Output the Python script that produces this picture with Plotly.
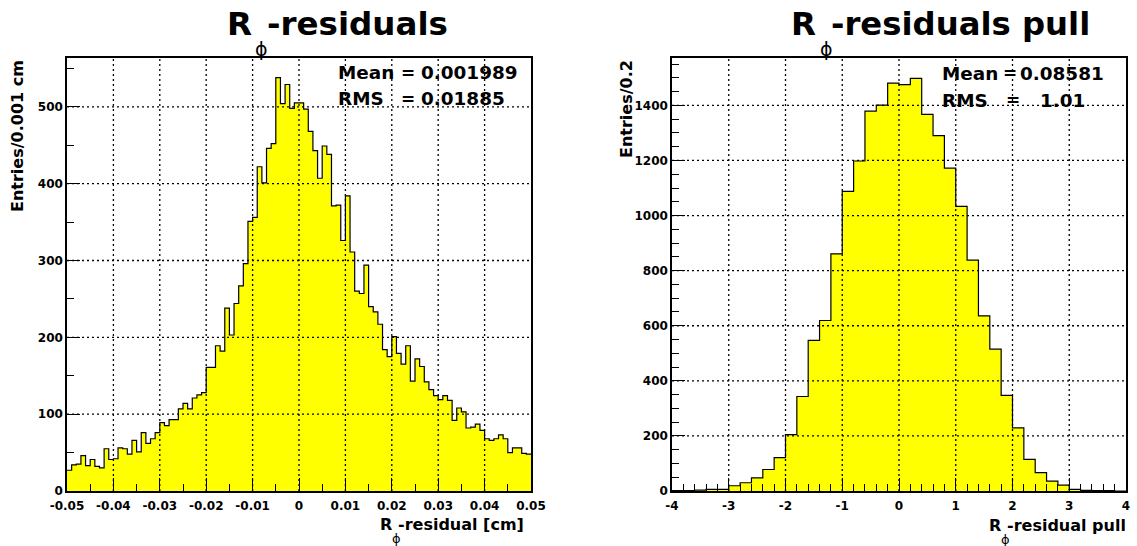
import plotly.graph_objects as go

# ---------------- data ----------------
# R_phi residuals: 100 bins of 0.001 cm from -0.05 to 0.05
res_bin_lo = -0.05
res_bin_w = 0.001
res_counts = [
    27, 34, 35, 46, 33, 41, 32, 30, 55, 41,
    42, 56, 55, 48, 66, 51, 76, 62, 68, 76,
    89, 85, 93, 93, 107, 114, 107, 121, 125, 128,
    161, 161, 189, 182, 238, 203, 244, 267, 296, 351,
    356, 422, 401, 446, 452, 538, 504, 529, 498, 505,
    505, 497, 468, 443, 407, 449, 438, 371, 372, 326,
    384, 311, 260, 257, 294, 240, 233, 217, 184, 175,
    201, 179, 165, 189, 143, 172, 162, 142, 132, 124,
    119, 124, 118, 92, 108, 103, 82, 83, 87, 79,
    68, 66, 68, 73, 68, 50, 56, 56, 49, 48,
]
res_xticks = [-0.05, -0.04, -0.03, -0.02, -0.01, 0, 0.01, 0.02, 0.03, 0.04, 0.05]
res_xticklabels = ["-0.05", "-0.04", "-0.03", "-0.02", "-0.01", "0",
                   "0.01", "0.02", "0.03", "0.04", "0.05"]
res_yticks = [0, 100, 200, 300, 400, 500]
res_yticklabels = ["0", "100", "200", "300", "400", "500"]
res_mean = "0.001989"
res_rms = "0.01885"

# R_phi residual pull: 40 bins of 0.2 from -4 to 4
pull_bin_lo = -4.0
pull_bin_w = 0.2
pull_counts = [
    1, 1, 3, 6, 6, 19, 30, 48, 78, 121,
    205, 343, 547, 619, 861, 1088, 1198, 1379, 1401, 1481,
    1475, 1498, 1367, 1290, 1172, 1033, 838, 636, 515, 347,
    229, 115, 67, 36, 21, 6, 2, 1, 1, 0,
]
pull_xticks = [-4, -3, -2, -1, 0, 1, 2, 3, 4]
pull_xticklabels = ["-4", "-3", "-2", "-1", "0", "1", "2", "3", "4"]
pull_yticks = [0, 200, 400, 600, 800, 1000, 1200, 1400]
pull_yticklabels = ["0", "200", "400", "600", "800", "1000", "1200", "1400"]
pull_mean = "0.08581"
pull_rms = "1.01"

# ---------------- layout helpers ----------------
W, H = 1137, 546
FONT = "DejaVu Sans, Verdana, sans-serif"


def px(x):
    return x / W


def py(y):
    return 1 - y / H


def step_xy(lo, w, counts):
    xs = [lo + i * w for i in range(len(counts) + 1)]
    ys = list(counts) + [counts[-1]]
    return xs, ys


fig = go.Figure()

rx, ry = step_xy(res_bin_lo, res_bin_w, res_counts)
fig.add_trace(go.Scatter(x=rx, y=ry, mode="lines", line_shape="hv",
                         fill="tozeroy", fillcolor="#ffff00",
                         line=dict(color="black", width=1.2),
                         xaxis="x", yaxis="y", hoverinfo="skip"))
qx, qy = step_xy(pull_bin_lo, pull_bin_w, pull_counts)
fig.add_trace(go.Scatter(x=qx, y=qy, mode="lines", line_shape="hv",
                         fill="tozeroy", fillcolor="#ffff00",
                         line=dict(color="black", width=1.2),
                         xaxis="x2", yaxis="y2", hoverinfo="skip"))

tickfont = dict(family=FONT, size=12, color="black", weight="bold")


def axis(domain, rng, tickvals, ticktext, minor_dtick, anchor, is_x):
    return dict(
        domain=domain, range=rng, anchor=anchor, automargin=False,
        tickmode="array", tickvals=tickvals, ticktext=ticktext,
        ticks="inside", ticklen=13, tickwidth=1, tickcolor="black",
        minor=dict(tickmode="linear", tick0=rng[0] if is_x else 0,
                   dtick=minor_dtick, ticks="inside", ticklen=7,
                   tickwidth=1, tickcolor="black", showgrid=False),
        showline=True, mirror=True, linecolor="black", linewidth=1.5,
        showgrid=False, zeroline=False, tickfont=tickfont,
        ticklabelstandoff=3 if is_x else 0, fixedrange=True,
    )


left_dom = [px(67), px(531)]
right_dom = [px(672), px(1126)]
y_dom = [py(491), py(58)]

fig.update_layout(
    template="none",
    width=W, height=H, margin=dict(l=0, r=0, t=0, b=0, pad=0),
    paper_bgcolor="white", plot_bgcolor="white", showlegend=False,
    xaxis=axis(left_dom, [-0.05, 0.05], res_xticks, res_xticklabels, 0.005, "y", True),
    yaxis=axis(y_dom, [0, 563.5], res_yticks, res_yticklabels, 50, "x", False),
    xaxis2=axis(right_dom, [-4, 4], pull_xticks, pull_xticklabels, 0.2, "y2", True),
    yaxis2=axis(y_dom, [0, 1572], pull_yticks, pull_yticklabels, 50, "x2", False),
)

# dotted grid lines drawn above the filled histograms
shapes = []
grid_line = dict(color="black", width=1.3, dash="2px,3px")
for xr, yr, xt, yt in (("x", "y", res_xticks, res_yticks),
                       ("x2", "y2", pull_xticks, pull_yticks)):
    for v in xt[1:-1]:
        shapes.append(dict(type="line", layer="above", xref=xr, yref=yr + " domain",
                           x0=v, x1=v, y0=0, y1=1, line=grid_line))
    for v in yt[1:]:
        shapes.append(dict(type="line", layer="above", xref=xr + " domain", yref=yr,
                           x0=0, x1=1, y0=v, y1=v, line=grid_line))
fig.update_layout(shapes=shapes)

ann = []


def text(t, x, y, size, xanchor="left", yanchor="middle", bold=True, angle=0):
    ann.append(dict(text=("<b>%s</b>" % t) if bold else t, x=px(x), y=py(y),
                    xref="paper", yref="paper", showarrow=False,
                    xanchor=xanchor, yanchor=yanchor, textangle=angle,
                    borderpad=0, borderwidth=0,
                    font=dict(family=FONT, size=size, color="black")))


PHI = "\u03d5"

# titles
text("R", 252, 24, 32.5, "right")
text(PHI, 261, 49, 19, "center", bold=False)
text("-residuals", 267, 24, 32.5, "left")
text("R", 816, 24, 32.5, "right")
text(PHI, 826, 49, 19, "center", bold=False)
text("-residuals pull", 831, 24, 32.3, "left")

# stats boxes
text("Mean", 338, 73, 18.4)
text("=", 401, 73, 17)
text(res_mean, 421, 73, 18.4)
text("RMS", 338, 98.5, 18.4)
text("=", 401, 98.5, 17)
text(res_rms, 421, 98.5, 18.4)

text("Mean", 942, 73.5, 18.4)
text("=", 1003, 73.5, 17)
text(pull_mean, 1020, 73.5, 18.4)
text("RMS", 942, 100, 18.4)
text("=", 1006, 100, 17)
text(pull_rms, 1040, 100, 18.4)

# y-axis titles (aligned to the top of the axis)
text("Entries/0.001 cm", 17, 60, 16, "center", "top", angle=-90)
text("Entries/0.2", 626, 60, 16, "center", "top", angle=-90)

# x-axis titles (aligned to the right end of the axis)
text("R", 392, 524, 16, "right")
text(PHI, 396, 538, 13, "center", bold=False)
text("-residual [cm]", 524, 524, 16, "right")
text("R", 1001, 525, 16, "right")
text(PHI, 1005, 539, 13, "center", bold=False)
text("-residual pull", 1126, 525, 16, "right")

fig.update_layout(annotations=ann)

fig.write_html("out.html")
